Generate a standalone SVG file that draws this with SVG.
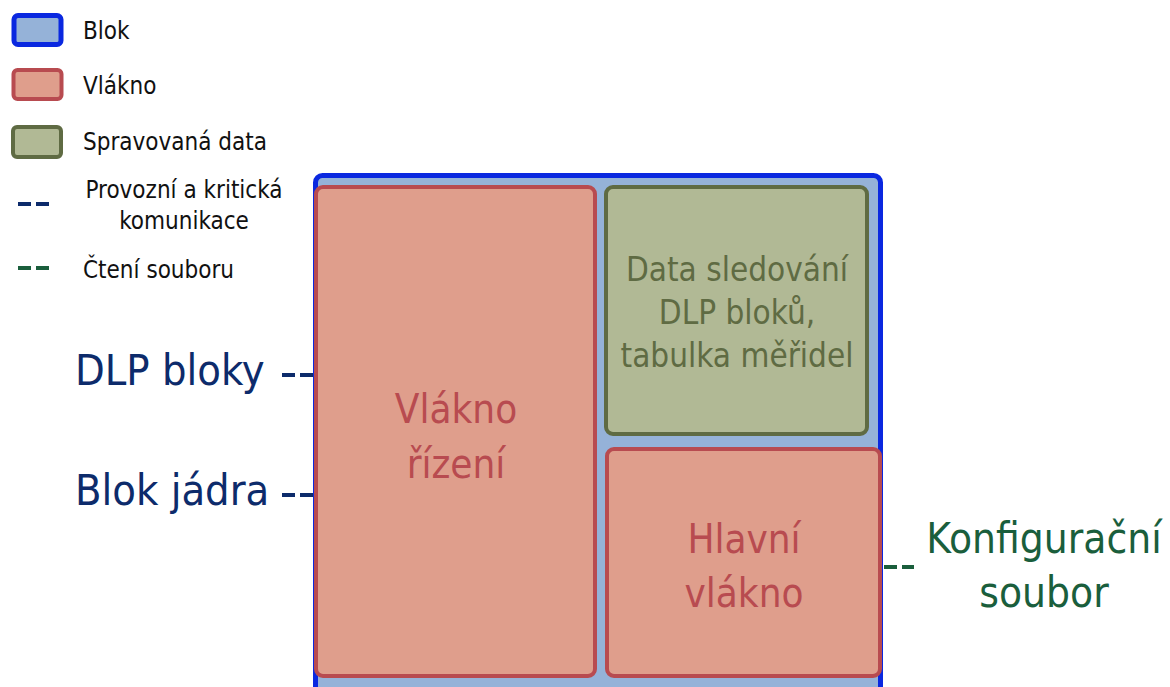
<svg xmlns="http://www.w3.org/2000/svg" width="1170" height="687" viewBox="0 0 1170 687">
  <style>
    text { font-family: "DejaVu Sans Condensed", "DejaVu Sans", sans-serif; }
    .block { fill: #95b2d8; stroke: #0a28e0; stroke-width: 5; }
    .thread { fill: #df9e8c; stroke: #b84b50; stroke-width: 4; }
    .data { fill: #b1b995; stroke: #5f6b43; stroke-width: 4; }
    .legend { font-size: 24px; fill: #111; }
    .ops { stroke: #0d2b6b; stroke-width: 4; stroke-dasharray: 13 5; fill: none; }
    .file { stroke: #1a5e3c; stroke-width: 4; stroke-dasharray: 13 5; fill: none; }
    .ext-ops { font-size: 43px; fill: #0d2b6b; }
    .ext-file { font-size: 42px; fill: #1a5e3c; text-anchor: middle; }
    .thread-label { font-size: 40px; fill: #b84b50; text-anchor: middle; }
    .data-label { font-size: 33px; fill: #5f6b43; text-anchor: middle; }
  </style>

  <!-- legend -->
  <g id="legend">
    <rect class="block" x="14" y="15.5" width="47" height="29" rx="4"/>
    <text class="legend" x="83" y="39">Blok</text>
    <rect class="thread" x="13.5" y="70" width="48" height="29" rx="4"/>
    <text class="legend" x="83" y="94">Vlákno</text>
    <rect class="data" x="13" y="127" width="48" height="30" rx="4"/>
    <text class="legend" x="83" y="150">Spravovaná data</text>
    <line class="ops" x1="18" y1="204" x2="53" y2="204"/>
    <text class="legend" x="184" y="198" text-anchor="middle">Provozní a kritická</text>
    <text class="legend" x="184" y="229" text-anchor="middle">komunikace</text>
    <line class="file" x1="18" y1="268" x2="53" y2="268"/>
    <text class="legend" x="83" y="278">Čtení souboru</text>
  </g>

  <!-- outer block -->
  <g id="block">
    <rect class="block" x="315.5" y="175.5" width="565" height="540" rx="7"/>
  </g>

  <g id="control-thread">
    <rect class="thread" x="316" y="187" width="279" height="489" rx="7"/>
    <text class="thread-label" x="456" y="423">Vlákno</text>
    <text class="thread-label" x="456" y="478">řízení</text>
  </g>

  <g id="tracking-data">
    <rect class="data" x="606" y="187" width="261" height="247" rx="7"/>
    <text class="data-label" x="737" y="281">Data sledování</text>
    <text class="data-label" x="737" y="324">DLP bloků,</text>
    <text class="data-label" x="737" y="367">tabulka měřidel</text>
  </g>

  <g id="main-thread">
    <rect class="thread" x="607" y="449" width="273" height="227" rx="7"/>
    <text class="thread-label" x="744" y="553">Hlavní</text>
    <text class="thread-label" x="744" y="607">vlákno</text>
  </g>

  <!-- external endpoints -->
  <g id="dlp-blocks">
    <text class="ext-ops" x="75" y="385">DLP bloky</text>
  </g>
  <g id="core-block">
    <text class="ext-ops" x="75" y="505">Blok jádra</text>
  </g>
  <g id="config-file">
    <text class="ext-file" x="1044" y="553">Konfigurační</text>
    <text class="ext-file" x="1044" y="607">soubor</text>
  </g>

  <!-- connectors -->
  <g id="connectors">
    <line class="ops" x1="282" y1="375" x2="314" y2="375"/>
    <line class="ops" x1="282" y1="495" x2="314" y2="495"/>
    <line class="file" x1="884" y1="567" x2="914" y2="567"/>
  </g>
</svg>
